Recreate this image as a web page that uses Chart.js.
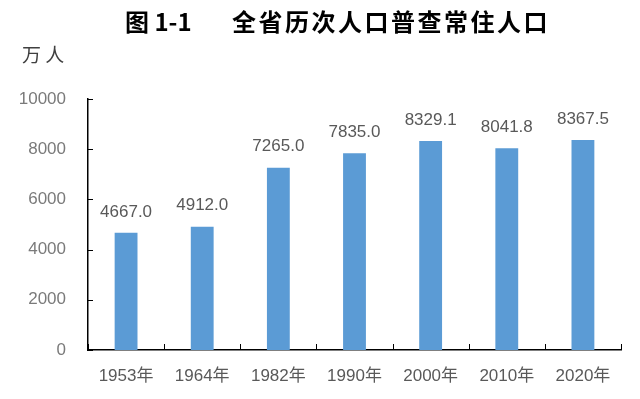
<!DOCTYPE html>
<html>
<head>
<meta charset="utf-8">
<script src="https://cdn.jsdelivr.net/npm/chart.js@4/dist/chart.umd.min.js"></script>
<style>
  html, body { margin: 0; padding: 0; background: #fff; }
  #wrap { width: 640px; height: 399px; position: relative; }
</style>
</head>
<body>
<div id="wrap"><canvas id="popChart"></canvas></div>
<script>
const titleNo = "图 1-1";
const titleText = "全省历次人口普查常住人口";
const unitText = "万 人";
const years = ["1953年", "1964年", "1982年", "1990年", "2000年", "2010年", "2020年"];
const population = [4667.0, 4912.0, 7265.0, 7835.0, 8329.1, 8041.8, 8367.5];
const yTicks = [0, 2000, 4000, 6000, 8000, 10000];

const labelFont = '17px "Liberation Sans", Arial, sans-serif';

// title, unit, value labels and inside tick marks
const decorPlugin = {
    id: 'decor',
    afterDraw(chart) {
        const ctx = chart.ctx;
        const area = chart.chartArea;
        const x = chart.scales.x;
        const y = chart.scales.y;
        ctx.save();

        ctx.fillStyle = '#000';
        ctx.font = 'bold 24px "Noto Sans CJK SC", sans-serif';
        ctx.textAlign = 'left';
        ctx.textBaseline = 'middle';
        ctx.fillText(titleNo, 125, 22);
        ctx.letterSpacing = '2.5px';
        ctx.fillText(titleText, 232, 22);
        ctx.letterSpacing = '0px';

        ctx.fillStyle = '#404040';
        ctx.font = '19px "Noto Sans CJK SC", sans-serif';
        ctx.fillText(unitText, 22, 55);

        // tick marks pointing into the plot
        ctx.strokeStyle = '#000';
        ctx.lineWidth = 1;
        ctx.beginPath();
        yTicks.forEach(v => {
            const py = Math.round(y.getPixelForValue(v)) + 0.5;
            ctx.moveTo(area.left, py);
            ctx.lineTo(area.left + 5, py);
        });
        for (let i = 0; i <= years.length; i++) {
            const px = Math.round(x.getPixelForValue(i - 0.5)) + 0.5;
            ctx.moveTo(px, area.bottom);
            ctx.lineTo(px, area.bottom - 6);
        }
        ctx.stroke();

        // value labels
        ctx.fillStyle = '#595959';
        ctx.font = labelFont;
        ctx.textAlign = 'center';
        chart.getDatasetMeta(0).data.forEach((bar, i) => {
            ctx.fillText(population[i].toFixed(1), bar.x, bar.y - 21);
        });
        ctx.restore();
    }
};

new Chart(document.getElementById('popChart'), {
    type: 'bar',
    data: {
        labels: years,
        datasets: [{
            data: population,
            backgroundColor: '#5B9BD5',
            barPercentage: 0.3,
            categoryPercentage: 1.0
        }]
    },
    options: {
        responsive: true,
        maintainAspectRatio: false,
        animation: false,
        layout: { padding: { top: 99, right: 19, left: 0, bottom: 0 } },
        plugins: {
            legend: { display: false },
            tooltip: { enabled: false }
        },
        scales: {
            x: {
                grid: { display: false, drawTicks: false },
                border: { color: '#000', width: 1.5 },
                ticks: { color: '#595959', font: { family: '"Liberation Sans", "Noto Sans CJK SC", sans-serif', size: 17 }, padding: 16 },
                afterFit(s) { s.height = 49; }
            },
            y: {
                min: 0,
                max: 10000,
                afterBuildTicks(s) { s.ticks = yTicks.map(v => ({ value: v })); },
                grid: { display: false, drawTicks: false },
                border: { color: '#000', width: 1.5 },
                ticks: {
                    color: '#7a7a7a',
                    font: { family: '"Liberation Sans", Arial, sans-serif', size: 17 },
                    padding: 22,
                    callback: v => String(v)
                },
                afterFit(s) { s.width = 88; }
            }
        }
    },
    plugins: [decorPlugin]
});
</script>
</body>
</html>
